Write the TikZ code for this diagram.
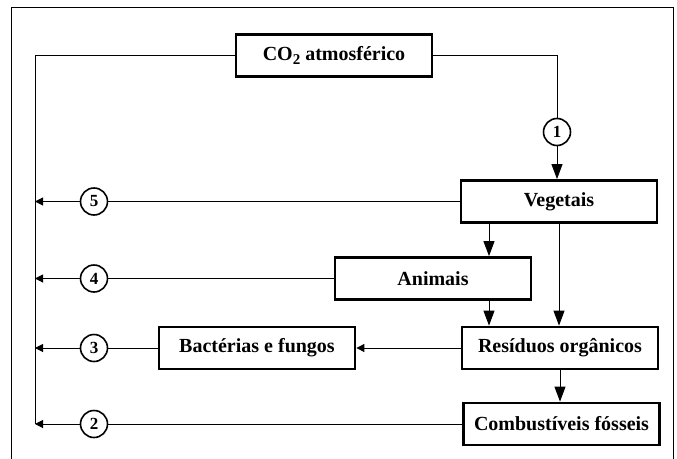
\documentclass[tikz,border=0pt]{standalone}
\usepackage{fontspec}
\setmainfont{Liberation Serif}
\usetikzlibrary{arrows.meta,calc}
\begin{document}
\begin{tikzpicture}[x=1pt,y=-1pt,
  box/.style={draw,line width=2.8pt,minimum width=196pt,minimum height=42pt,inner sep=0pt,
    font=\fontsize{20}{22}\selectfont\bfseries},
  num/.style={draw,circle,line width=1.6pt,minimum size=27pt,inner sep=0pt,fill=white,
    font=\fontsize{17}{18}\selectfont\bfseries},
  ln/.style={line width=1pt},
  bigarr/.style={ln,-{Triangle[width=11pt,length=15pt]}},
  smallarr/.style={ln,-{Triangle[width=8pt,length=8pt]}}]
\useasboundingbox (0,0) rectangle (677,458);
% outer frame
\draw[line width=1pt] (11,470) -- (11,7) -- (673,7) -- (673,470);
% boxes
\node[box] (co2) at (334,55.5) {CO{\fontsize{15}{16}\selectfont\raisebox{-0.6ex}{2}} atmosférico};
\node[box] (veg) at (559,201.5) {Vegetais};
\node[box] (ani) at (433,278.5) {Animais};
\node[box] (res) at (560,348) {Resíduos orgânicos};
\node[box] (bac) at (257,348) {Bactérias e fungos};
\node[box] (com) at (561.5,424) {Combustíveis fósseis};
% circles
\node[num] (c1) at (557,132) {1};
\node[num] (c5) at (94,201.5) {5};
\node[num] (c4) at (94,278.5) {4};
\node[num] (c3) at (94,348) {3};
\node[num] (c2) at (94,424) {2};
% coordinates on the return line
\coordinate (top) at (35,55.5);
\coordinate (l5) at (35,201.5);
\coordinate (l4) at (35,278.5);
\coordinate (l3) at (35,348);
\coordinate (l2) at (35,424);
% return line
\draw[ln] (co2.west) -- (top) -- (l2);
% path 1
\draw[ln] (co2.east) -| (c1.north);
\draw[bigarr] (c1.south) -- (c1.south |- veg.north);
% emissions
\draw[ln] (veg.west) -- (c5.east);
\draw[smallarr] (c5.west) -- (l5);
\draw[ln] (ani.west) -- (c4.east);
\draw[smallarr] (c4.west) -- (l4);
\draw[ln] (bac.west) -- (c3.east);
\draw[smallarr] (c3.west) -- (l3);
\draw[ln] (com.west) -- (c2.east);
\draw[smallarr] (c2.west) -- (l2);
% food chain
\draw[bigarr] ([xshift=-70pt]veg.south) -- ([xshift=-70pt]veg.south |- ani.north);
\draw[bigarr] (veg.south) -- (veg.south |- res.north);
\draw[bigarr] ([xshift=56pt]ani.south) -- ([xshift=56pt]ani.south |- res.north);
\draw[smallarr] (res.west) -- (bac.east);
\draw[bigarr] (res.south) -- (res.south |- com.north);
\end{tikzpicture}
\end{document}
